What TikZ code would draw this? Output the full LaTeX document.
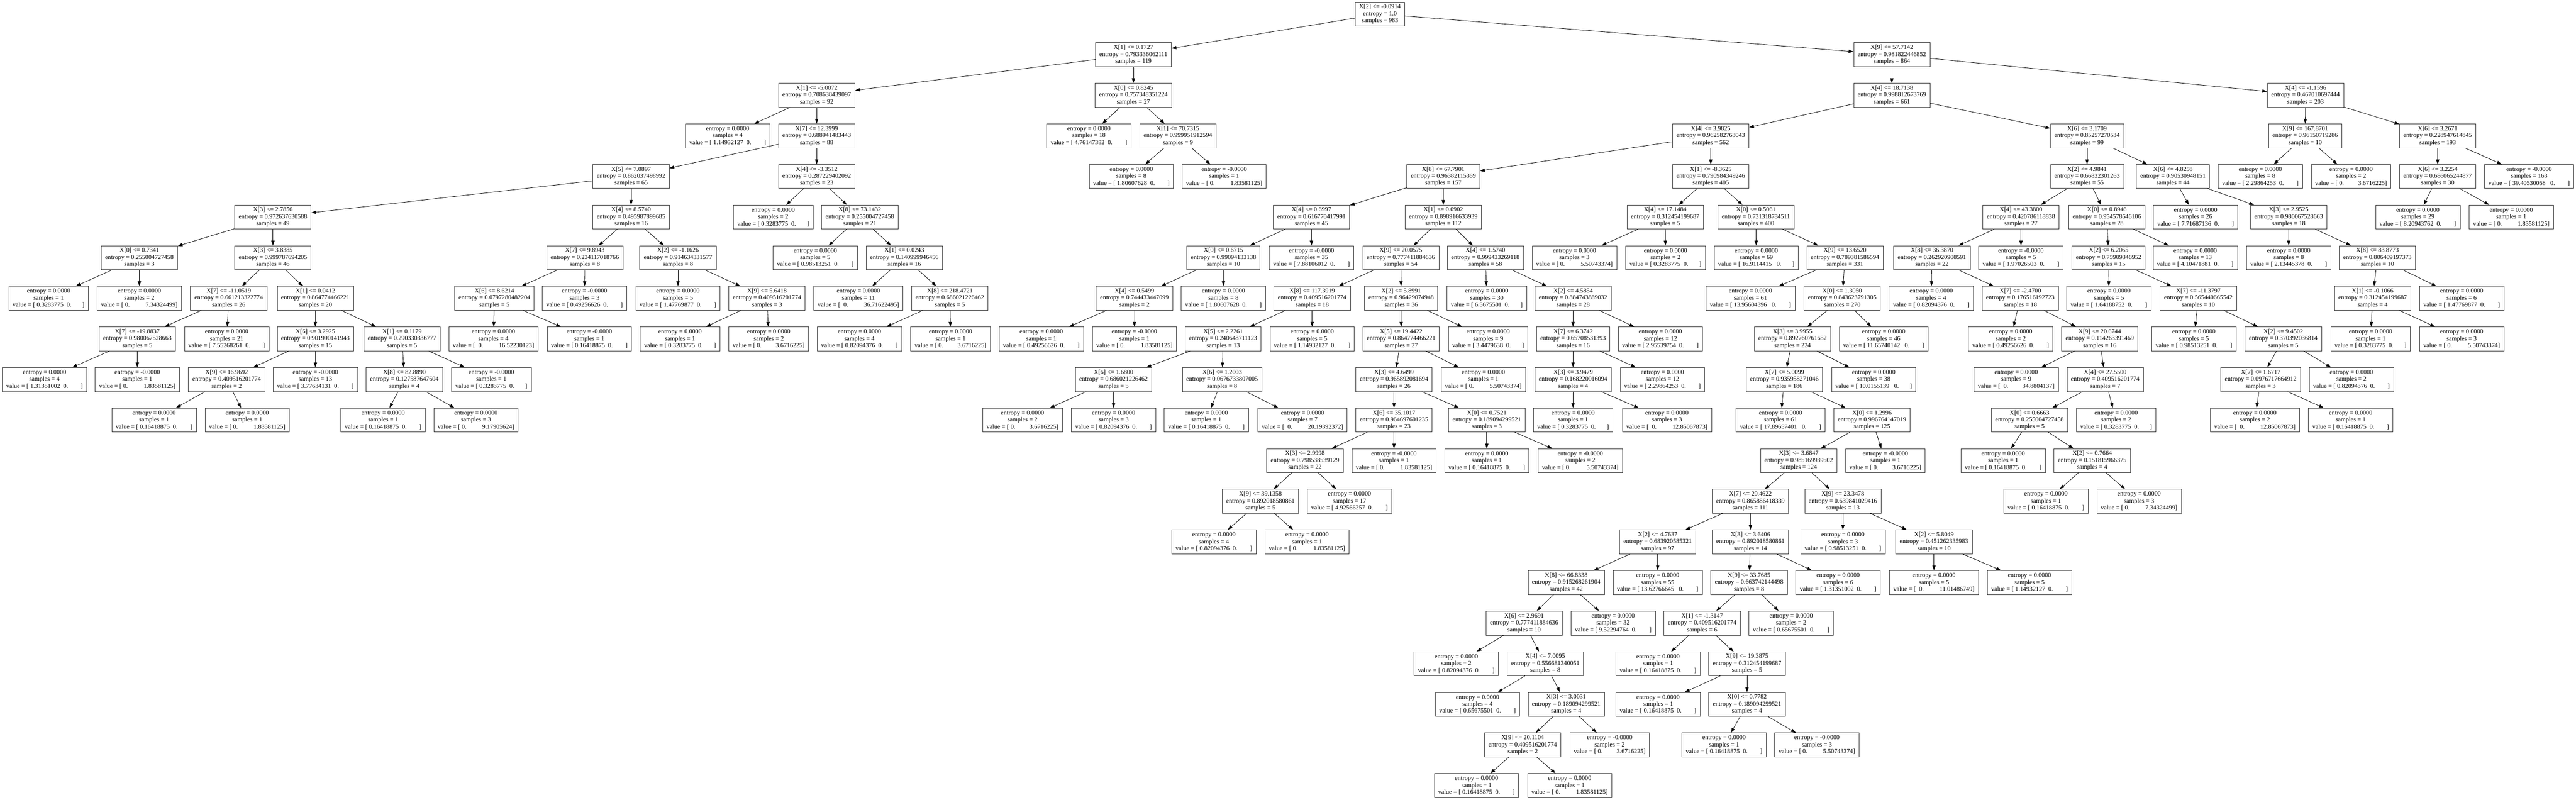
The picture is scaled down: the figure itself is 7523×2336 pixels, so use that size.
\documentclass[tikz,border=0pt]{standalone}
\usepackage{fontspec}
\setmainfont{Liberation Serif}
\usetikzlibrary{arrows.meta}
\newcommand{\VLa}[1]{value = [\hspace{.25em}#1\hspace{.5em}0.\hspace{2em}]}
\newcommand{\VLb}[1]{value = [\hspace{.25em}#1\hspace{.5em}0.\hspace{1.75em}]}
\newcommand{\VLc}[1]{value = [\hspace{.25em}#1\hspace{.75em}0.\hspace{2em}]}
\newcommand{\VLd}[1]{value = [\hspace{.25em}#1\hspace{.75em}0.\hspace{1.75em}]}
\newcommand{\VRa}[1]{value = [\hspace{.25em}0.\hspace{2.5em}#1]}
\newcommand{\VRb}[1]{value = [\hspace{.25em}0.\hspace{2.25em}#1]}
\newcommand{\VRc}[1]{value = [\hspace{.5em}0.\hspace{2.5em}#1]}
\newcommand{\VRd}[1]{value = [\hspace{.5em}0.\hspace{2.25em}#1]}
\newcommand{\inode}[7]{\node[nbox] (#1) at (#2,{-41-118.6*#3}) {X[#4] <= #5\\entropy = #6\\samples = #7};}
\newcommand{\lnode}[6]{\node[nbox] (#1) at (#2,{-41-118.6*#3}) {entropy = #4\\samples = #5\\#6};}
\tikzset{
  nbox/.style={draw=black!78, line width=1.2pt, align=center,
    font=\fontsize{18.4}{20.2}\selectfont, inner xsep=11.5pt, inner ysep=0pt,
    minimum height=70pt},
  edge/.style={draw=black, line width=1.2pt, -{Triangle[length=14pt,width=9.5pt]}}
}
\begin{document}
\begin{tikzpicture}[x=1pt,y=1pt]
\path[use as bounding box, fill=white] (0,0) rectangle (7523,-2336);
% ---------- left part ----------
\inode{n0}{4030}{0}{2}{-0.0914}{1.0}{983}
\inode{n1}{3310}{1}{1}{0.1727}{0.793336062111}{119}
\inode{n2}{2385}{2}{1}{-5.0072}{0.708638439097}{92}
\lnode{n3}{2125}{3}{0.0000}{4}{\VLa{1.14932127}}
\inode{n4}{2385}{3}{7}{12.3999}{0.688941483443}{88}
\inode{n5}{1843}{4}{5}{7.0897}{0.862037498992}{65}
\inode{n6}{797}{5}{3}{2.7856}{0.972637630588}{49}
\inode{n7}{407}{6}{0}{0.7341}{0.255004727458}{3}
\lnode{n8}{142}{7}{0.0000}{1}{\VLb{0.3283775}}
\lnode{n9}{407}{7}{0.0000}{2}{\VRa{7.34324499}}
\inode{n10}{797}{6}{3}{3.8385}{0.999787694205}{46}
\inode{n11}{668}{7}{7}{-11.0519}{0.661213322774}{26}
\inode{n12}{401}{8}{7}{-19.8837}{0.980067528663}{5}
\lnode{n13}{130}{9}{0.0000}{4}{\VLa{1.31351002}}
\lnode{n14}{401}{9}{-0.0000}{1}{\VRa{1.83581125}}
\lnode{n15}{662}{8}{0.0000}{21}{\VLa{7.55268261}}
\inode{n16}{921}{7}{1}{0.0412}{0.864774466221}{20}
\inode{n17}{921}{8}{6}{3.2925}{0.901990141943}{15}
\inode{n18}{662}{9}{9}{16.9692}{0.409516201774}{2}
\lnode{n19}{450}{10}{0.0000}{1}{\VLa{0.16418875}}
\lnode{n20}{722}{10}{0.0000}{1}{\VRa{1.83581125}}
\lnode{n21}{921}{9}{-0.0000}{13}{\VLa{3.77634131}}
\inode{n22}{1174}{8}{1}{0.1179}{0.290330336777}{5}
\inode{n23}{1181}{9}{8}{82.8890}{0.127587647604}{4}
\lnode{n24}{1119}{10}{0.0000}{1}{\VLa{0.16418875}}
\lnode{n25}{1390}{10}{0.0000}{3}{\VRa{9.17905624}}
\lnode{n26}{1435}{9}{-0.0000}{1}{\VLb{0.3283775}}
\inode{n27}{1843}{5}{4}{8.5740}{0.495987899685}{16}
\inode{n28}{1708}{6}{7}{9.8943}{0.234117018766}{8}
\inode{n29}{1444}{7}{6}{8.6214}{0.0797280482204}{5}
\lnode{n30}{1441}{8}{0.0000}{4}{\VRc{16.52230123}}
\lnode{n31}{1721}{8}{-0.0000}{1}{\VLa{0.16418875}}
\lnode{n32}{1707}{7}{-0.0000}{3}{\VLa{0.49256626}}
\inode{n33}{1980}{6}{2}{-1.1626}{0.914634331577}{8}
\lnode{n34}{1980}{7}{0.0000}{5}{\VLa{1.47769877}}
\inode{n35}{2240}{7}{9}{5.6418}{0.409516201774}{3}
\lnode{n36}{1986}{8}{0.0000}{1}{\VLb{0.3283775}}
\lnode{n37}{2245}{8}{0.0000}{2}{\VRb{3.6716225}}
\inode{n38}{2385}{4}{4}{-3.3512}{0.287229402092}{23}
\lnode{n39}{2258}{5}{0.0000}{2}{\VLb{0.3283775}}
\inode{n40}{2511}{5}{8}{73.1432}{0.255004727458}{21}
\lnode{n41}{2381}{6}{0.0000}{5}{\VLa{0.98513251}}
\inode{n42}{2641}{6}{1}{0.0243}{0.140999946456}{16}
\lnode{n43}{2507}{7}{0.0000}{11}{\VRc{36.71622495}}
\inode{n44}{2774}{7}{8}{218.4721}{0.686021226462}{5}
\lnode{n45}{2510}{8}{0.0000}{4}{\VLa{0.82094376}}
\lnode{n46}{2776}{8}{0.0000}{1}{\VRb{3.6716225}}
\inode{n47}{3310}{2}{0}{0.8245}{0.757348351224}{27}
\lnode{n48}{3180}{3}{0.0000}{18}{\VLa{4.76147382}}
\inode{n49}{3440}{3}{1}{70.7315}{0.999951912594}{9}
\lnode{n50}{3304}{4}{0.0000}{8}{\VLa{1.80607628}}
\lnode{n51}{3575}{4}{-0.0000}{1}{\VRa{1.83581125}}
% ---------- right part ----------
\inode{n52}{5525}{1}{9}{57.7142}{0.981822446852}{864}
\inode{n53}{5525}{2}{4}{18.7138}{0.998812673769}{661}
\inode{n54}{4996}{3}{4}{3.9825}{0.962582763043}{562}
\inode{n55}{4215}{4}{8}{67.7901}{0.96382115369}{157}
\inode{n56}{3830}{5}{4}{0.6997}{0.616770417991}{45}
\inode{n57}{3573}{6}{0}{0.6715}{0.99094133138}{10}
\inode{n58}{3313}{7}{4}{0.5499}{0.744433447099}{2}
\lnode{n59}{3041}{8}{0.0000}{1}{\VLa{0.49256626}}
\lnode{n60}{3313}{8}{-0.0000}{1}{\VRa{1.83581125}}
\lnode{n61}{3573}{7}{0.0000}{8}{\VLa{1.80607628}}
\lnode{n62}{3830}{6}{-0.0000}{35}{\VLa{7.88106012}}
\inode{n63}{4215}{5}{1}{0.0902}{0.898916633939}{112}
\inode{n64}{4091}{6}{9}{20.0575}{0.777411884636}{54}
\inode{n65}{3832}{7}{8}{117.3919}{0.409516201774}{18}
\inode{n66}{3572}{8}{5}{2.2261}{0.240648711123}{13}
\inode{n67}{3252}{9}{6}{1.6800}{0.686021226462}{5}
\lnode{n68}{2986}{10}{0.0000}{2}{\VRb{3.6716225}}
\lnode{n69}{3252}{10}{0.0000}{3}{\VLa{0.82094376}}
\inode{n70}{3569}{9}{6}{1.2003}{0.0676733807005}{8}
\lnode{n71}{3523}{10}{0.0000}{1}{\VLa{0.16418875}}
\lnode{n72}{3804}{10}{0.0000}{7}{\VRc{20.19392372}}
\lnode{n73}{3832}{8}{0.0000}{5}{\VLa{1.14932127}}
\inode{n74}{4092}{7}{2}{5.8991}{0.96429074948}{36}
\inode{n75}{4092}{8}{5}{19.4422}{0.864774466221}{27}
\inode{n76}{4071}{9}{3}{4.6499}{0.965892081694}{26}
\inode{n77}{4071}{10}{6}{35.1017}{0.964697601235}{23}
\inode{n78}{3811}{11}{3}{2.9998}{0.798538539129}{22}
\inode{n79}{3681}{12}{9}{39.1358}{0.892018580861}{5}
\lnode{n80}{3545}{13}{0.0000}{4}{\VLa{0.82094376}}
\lnode{n81}{3817}{13}{0.0000}{1}{\VRa{1.83581125}}
\lnode{n82}{3941}{12}{0.0000}{17}{\VLa{4.92566257}}
\lnode{n83}{4071}{11}{-0.0000}{1}{\VRa{1.83581125}}
\inode{n84}{4342}{10}{0}{0.7521}{0.189094299521}{3}
\lnode{n85}{4342}{11}{0.0000}{1}{\VLa{0.16418875}}
\lnode{n86}{4615}{11}{-0.0000}{2}{\VRa{5.50743374}}
\lnode{n87}{4332}{9}{0.0000}{1}{\VRa{5.50743374}}
\lnode{n88}{4346}{8}{0.0000}{9}{\VLb{3.4479638}}
\inode{n89}{4338}{6}{4}{1.5740}{0.999433269118}{58}
\lnode{n90}{4342}{7}{0.0000}{30}{\VLb{6.5675501}}
\inode{n91}{4594}{7}{2}{4.5854}{0.884743889032}{28}
\inode{n92}{4594}{8}{7}{6.3742}{0.65708531393}{16}
\inode{n93}{4594}{9}{3}{3.9479}{0.168220016094}{4}
\lnode{n94}{4594}{10}{0.0000}{1}{\VLb{0.3283775}}
\lnode{n95}{4868}{10}{0.0000}{3}{\VRc{12.85067873}}
\lnode{n96}{4855}{9}{0.0000}{12}{\VLa{2.29864253}}
\lnode{n97}{4849}{8}{0.0000}{12}{\VLa{2.95539754}}
\inode{n98}{4996}{4}{1}{-8.3625}{0.790984349246}{405}
\inode{n99}{4863}{5}{4}{17.1484}{0.312454199687}{5}
\lnode{n100}{4598}{6}{0.0000}{3}{\VRa{5.50743374}}
\lnode{n101}{4864}{6}{0.0000}{2}{\VLb{0.3283775}}
\inode{n102}{5128}{5}{0}{0.5061}{0.731318784511}{400}
\lnode{n103}{5129}{6}{0.0000}{69}{\VLd{16.9114415}}
\inode{n104}{5388}{6}{9}{13.6520}{0.789381586594}{331}
\lnode{n105}{5112}{7}{0.0000}{61}{\VLc{13.95604396}}
\inode{n106}{5380}{7}{0}{1.3050}{0.843623791305}{270}
\inode{n107}{5235}{8}{3}{3.9955}{0.892760761652}{224}
\inode{n108}{5211}{9}{7}{5.0099}{0.935958271046}{186}
\lnode{n109}{5200}{10}{0.0000}{61}{\VLc{17.89657401}}
\inode{n110}{5467}{10}{0}{1.2996}{0.996764147019}{125}
\inode{n111}{5253}{11}{3}{3.6847}{0.985169939502}{124}
\inode{n112}{5112}{12}{7}{20.4622}{0.865886418339}{111}
\inode{n113}{4841}{13}{2}{4.7637}{0.683920585321}{97}
\inode{n114}{4574}{14}{8}{66.8338}{0.915268261904}{42}
\inode{n115}{4451}{15}{6}{2.9691}{0.777411884636}{10}
\lnode{n116}{4253}{16}{0.0000}{2}{\VLa{0.82094376}}
\inode{n117}{4513}{16}{4}{7.0095}{0.556681340051}{8}
\lnode{n118}{4315}{17}{0.0000}{4}{\VLa{0.65675501}}
\inode{n119}{4574}{17}{3}{3.0031}{0.189094299521}{4}
\inode{n120}{4447}{18}{9}{20.1104}{0.409516201774}{2}
\lnode{n121}{4312}{19}{0.0000}{1}{\VLa{0.16418875}}
\lnode{n122}{4584}{19}{0.0000}{1}{\VRa{1.83581125}}
\lnode{n123}{4701}{18}{-0.0000}{2}{\VRb{3.6716225}}
\lnode{n124}{4711}{15}{0.0000}{32}{\VLa{9.52294764}}
\lnode{n125}{4841}{14}{0.0000}{55}{\VLc{13.62766645}}
\inode{n126}{5112}{13}{3}{3.6406}{0.892018580861}{14}
\inode{n127}{5108}{14}{9}{33.7685}{0.663742144498}{8}
\inode{n128}{4971}{15}{1}{-1.3147}{0.409516201774}{6}
\lnode{n129}{4842}{16}{0.0000}{1}{\VLa{0.16418875}}
\inode{n130}{5102}{16}{9}{19.3875}{0.312454199687}{5}
\lnode{n131}{4842}{17}{0.0000}{1}{\VLa{0.16418875}}
\inode{n132}{5102}{17}{0}{0.7782}{0.189094299521}{4}
\lnode{n133}{5035}{18}{0.0000}{1}{\VLa{0.16418875}}
\lnode{n134}{5306}{18}{-0.0000}{3}{\VRa{5.50743374}}
\lnode{n135}{5231}{15}{0.0000}{2}{\VLa{0.65675501}}
\lnode{n136}{5368}{14}{0.0000}{6}{\VLa{1.31351002}}
\inode{n137}{5382}{12}{9}{23.3478}{0.639841029416}{13}
\lnode{n138}{5382}{13}{0.0000}{3}{\VLa{0.98513251}}
\inode{n139}{5648}{13}{2}{5.8049}{0.451262335983}{10}
\lnode{n140}{5648}{14}{0.0000}{5}{\VRc{11.01486749}}
\lnode{n141}{5927}{14}{0.0000}{5}{\VLa{1.14932127}}
\lnode{n142}{5506}{11}{-0.0000}{1}{\VRb{3.6716225}}
\lnode{n143}{5472}{9}{0.0000}{38}{\VLd{10.0155139}}
\lnode{n144}{5501}{8}{0.0000}{46}{\VLc{11.65740142}}
\inode{n145}{6095}{3}{6}{3.1709}{0.85257270534}{99}
\inode{n146}{6095}{4}{2}{4.9841}{0.66832301263}{55}
\inode{n147}{5902}{5}{4}{43.3800}{0.420786118838}{27}
\inode{n148}{5642}{6}{8}{36.3870}{0.262920908591}{22}
\lnode{n149}{5640}{7}{0.0000}{4}{\VLa{0.82094376}}
\inode{n150}{5900}{7}{7}{-2.4700}{0.176516192723}{18}
\lnode{n151}{5872}{8}{0.0000}{2}{\VLa{0.49256626}}
\inode{n152}{6132}{8}{9}{20.6744}{0.114263391469}{16}
\lnode{n153}{5888}{9}{0.0000}{9}{\VRd{34.8804137}}
\inode{n154}{6148}{9}{4}{27.5500}{0.409516201774}{7}
\inode{n155}{5927}{10}{0}{0.6663}{0.255004727458}{5}
\lnode{n156}{5850}{11}{0.0000}{1}{\VLa{0.16418875}}
\inode{n157}{6110}{11}{2}{0.7664}{0.151815966375}{4}
\lnode{n158}{5975}{12}{0.0000}{1}{\VLa{0.16418875}}
\lnode{n159}{6247}{12}{0.0000}{3}{\VRa{7.34324499}}
\lnode{n160}{6180}{10}{0.0000}{2}{\VLb{0.3283775}}
\lnode{n161}{5902}{6}{-0.0000}{5}{\VLa{1.97026503}}
\inode{n162}{6153}{5}{0}{0.8946}{0.954578646106}{28}
\inode{n163}{6158}{6}{2}{6.2065}{0.75909346952}{15}
\lnode{n164}{6159}{7}{0.0000}{5}{\VLa{1.64188752}}
\inode{n165}{6420}{7}{7}{-11.3797}{0.565440665542}{10}
\lnode{n166}{6407}{8}{0.0000}{5}{\VLa{0.98513251}}
\inode{n167}{6668}{8}{2}{9.4502}{0.370392036814}{5}
\inode{n168}{6602}{9}{7}{1.6717}{0.0976717664912}{3}
\lnode{n169}{6585}{10}{0.0000}{2}{\VRc{12.85067873}}
\lnode{n170}{6865}{10}{0.0000}{1}{\VLa{0.16418875}}
\lnode{n171}{6867}{9}{0.0000}{2}{\VLa{0.82094376}}
\lnode{n172}{6411}{6}{0.0000}{13}{\VLa{4.10471881}}
\inode{n173}{6346}{4}{6}{4.8258}{0.90530948151}{44}
\lnode{n174}{6412}{5}{0.0000}{26}{\VLa{7.71687136}}
\inode{n175}{6684}{5}{3}{2.9525}{0.980067528663}{18}
\lnode{n176}{6684}{6}{0.0000}{8}{\VLa{2.13445378}}
\inode{n177}{6943}{6}{8}{83.8773}{0.806409197373}{10}
\inode{n178}{6929}{7}{1}{-0.1066}{0.312454199687}{4}
\lnode{n179}{6923}{8}{0.0000}{1}{\VLb{0.3283775}}
\lnode{n180}{7189}{8}{0.0000}{3}{\VRa{5.50743374}}
\lnode{n181}{7189}{7}{0.0000}{6}{\VLa{1.47769877}}
\inode{n182}{6733}{2}{4}{-1.1596}{0.467010697444}{203}
\inode{n183}{6732}{3}{9}{167.8701}{0.96150719286}{10}
\lnode{n184}{6601}{4}{0.0000}{8}{\VLa{2.29864253}}
\lnode{n185}{6866}{4}{0.0000}{2}{\VRb{3.6716225}}
\inode{n186}{7119}{3}{6}{3.2671}{0.228947614845}{193}
\inode{n187}{7119}{4}{6}{3.2254}{0.686065244877}{30}
\lnode{n188}{7061}{5}{0.0000}{29}{\VLa{8.20943762}}
\lnode{n189}{7334}{5}{0.0000}{1}{\VRa{1.83581125}}
\lnode{n190}{7386}{4}{-0.0000}{163}{\VLc{39.40530058}}
% ---------- edges ----------
\foreach \a/\b in {n0/n1,n0/n52,n1/n2,n1/n47,n2/n3,n2/n4,n4/n5,n4/n38,n5/n6,n5/n27,
 n6/n7,n6/n10,n7/n8,n7/n9,n10/n11,n10/n16,n11/n12,n11/n15,n12/n13,n12/n14,
 n16/n17,n16/n22,n17/n18,n17/n21,n18/n19,n18/n20,n22/n23,n22/n26,n23/n24,n23/n25,
 n27/n28,n27/n33,n28/n29,n28/n32,n29/n30,n29/n31,n33/n34,n33/n35,n35/n36,n35/n37,
 n38/n39,n38/n40,n40/n41,n40/n42,n42/n43,n42/n44,n44/n45,n44/n46,n47/n48,n47/n49,
 n49/n50,n49/n51,n52/n53,n52/n182,n53/n54,n53/n145,n54/n55,n54/n98,n55/n56,n55/n63,
 n56/n57,n56/n62,n57/n58,n57/n61,n58/n59,n58/n60,n63/n64,n63/n89,n64/n65,n64/n74,
 n65/n66,n65/n73,n66/n67,n66/n70,n67/n68,n67/n69,n70/n71,n70/n72,n74/n75,n74/n88,
 n75/n76,n75/n87,n76/n77,n76/n84,n77/n78,n77/n83,n78/n79,n78/n82,n79/n80,n79/n81,
 n84/n85,n84/n86,n89/n90,n89/n91,n91/n92,n91/n97,n92/n93,n92/n96,n93/n94,n93/n95,
 n98/n99,n98/n102,n99/n100,n99/n101,n102/n103,n102/n104,n104/n105,n104/n106,
 n106/n107,n106/n144,n107/n108,n107/n143,n108/n109,n108/n110,n110/n111,n110/n142,
 n111/n112,n111/n137,n112/n113,n112/n126,n113/n114,n113/n125,n114/n115,n114/n124,
 n115/n116,n115/n117,n117/n118,n117/n119,n119/n120,n119/n123,n120/n121,n120/n122,
 n126/n127,n126/n136,n127/n128,n127/n135,n128/n129,n128/n130,n130/n131,n130/n132,
 n132/n133,n132/n134,n137/n138,n137/n139,n139/n140,n139/n141,n145/n146,n145/n173,
 n146/n147,n146/n162,n147/n148,n147/n161,n148/n149,n148/n150,n150/n151,n150/n152,
 n152/n153,n152/n154,n154/n155,n154/n160,n155/n156,n155/n157,n157/n158,n157/n159,
 n162/n163,n162/n172,n163/n164,n163/n165,n165/n166,n165/n167,n167/n168,n167/n171,
 n168/n169,n168/n170,n173/n174,n173/n175,n175/n176,n175/n177,n177/n178,n177/n181,
 n178/n179,n178/n180,n182/n183,n182/n186,n183/n184,n183/n185,n186/n187,n186/n190,
 n187/n188,n187/n189}
  \draw[edge] (\a) -- (\b);
\end{tikzpicture}
\end{document}
